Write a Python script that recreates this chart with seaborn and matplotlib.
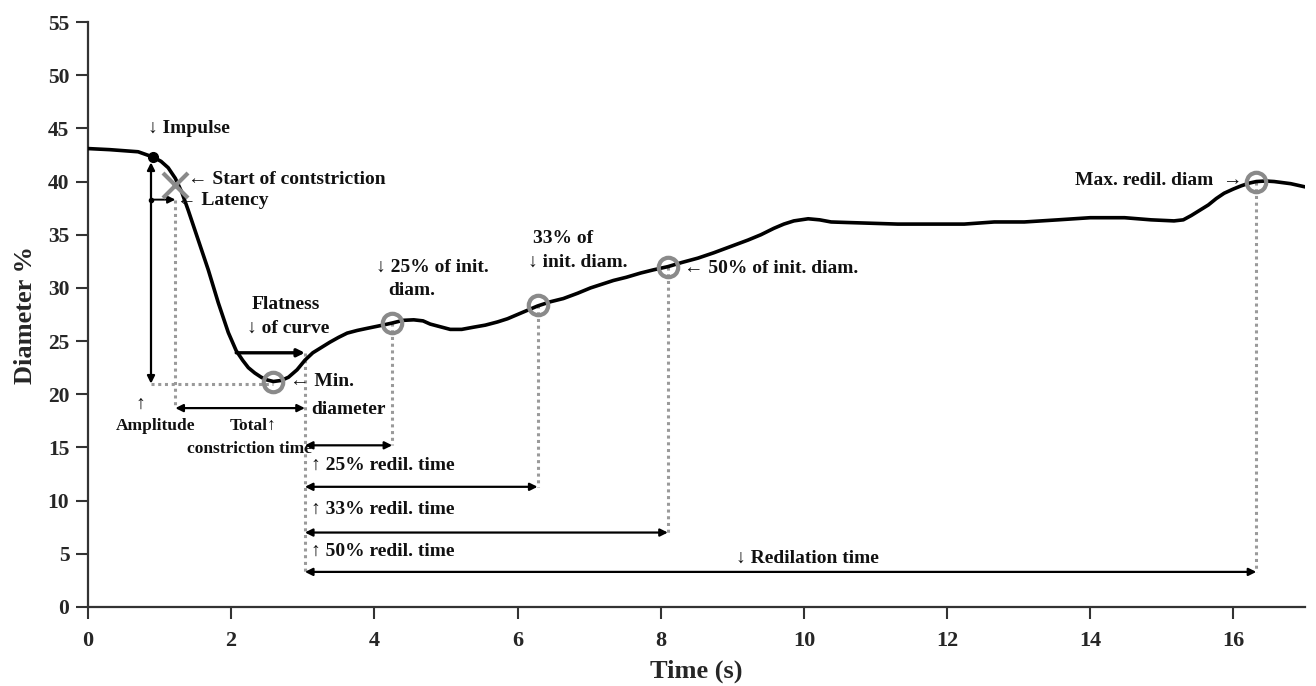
import matplotlib
matplotlib.use("Agg")
import matplotlib.pyplot as plt
import seaborn as sns
import pandas as pd

# ---- data ----
time_s = [0.0, 0.3, 0.7, 0.91, 1.02, 1.12, 1.22, 1.31, 1.40, 1.54, 1.68, 1.82, 1.96, 2.07,
          2.16, 2.24, 2.33, 2.42, 2.50, 2.59, 2.70, 2.80, 2.92, 3.03, 3.14, 3.26, 3.38,
          3.50, 3.62, 3.76, 3.90, 4.08, 4.25, 4.40, 4.55, 4.68, 4.78, 4.92, 5.06, 5.22,
          5.38, 5.55, 5.72, 5.86, 6.00, 6.14, 6.28, 6.46, 6.64, 6.84, 7.02, 7.18, 7.34,
          7.52, 7.72, 7.90, 8.10, 8.30, 8.52, 8.74, 8.98, 9.22, 9.40, 9.58, 9.72, 9.86,
          10.06, 10.22, 10.38, 10.60, 10.84, 11.31, 11.78, 12.24, 12.66, 13.08, 13.55,
          14.00, 14.48, 14.85, 15.17, 15.30, 15.41, 15.53, 15.65, 15.76, 15.87, 16.00,
          16.11, 16.22, 16.32, 16.45, 16.57, 16.80, 17.0]
diameter = [43.1, 43.0, 42.8, 42.3, 41.9, 41.3, 40.3, 39.0, 37.3, 34.5, 31.7, 28.6, 25.8, 24.1,
            23.2, 22.5, 22.0, 21.6, 21.35, 21.2, 21.3, 21.6, 22.3, 23.2, 23.9, 24.4, 24.9,
            25.35, 25.75, 26.0, 26.2, 26.45, 26.7, 26.95, 27.0, 26.9, 26.6, 26.35, 26.1, 26.1,
            26.3, 26.5, 26.8, 27.1, 27.5, 27.9, 28.3, 28.7, 29.0, 29.5, 30.0, 30.35, 30.7,
            31.0, 31.4, 31.7, 32.0, 32.4, 32.8, 33.3, 33.9, 34.5, 35.0, 35.6, 36.0, 36.3,
            36.5, 36.4, 36.2, 36.15, 36.1, 36.0, 36.0, 36.0, 36.2, 36.2, 36.4,
            36.6, 36.6, 36.4, 36.3, 36.4, 36.8, 37.3, 37.8, 38.4, 38.9, 39.3,
            39.6, 39.85, 40.0, 40.05, 40.0, 39.8, 39.5]

# events: impulse, start of constriction, min, 25%, 33%, 50%, max
impulse = (0.91, 42.3)
start_constr = (1.22, 39.7)
circle_t = [2.59, 4.25, 6.28, 8.10, 16.32]
circle_d = [21.2, 26.7, 28.4, 32.0, 40.0]
flat_end_t = 3.03
amp_t = 0.88
arrow_levels = {"latency": 38.3, "total": 18.7, "flat": 23.9,
                "r25": 15.2, "r33": 11.3, "r50": 7.0, "redil": 3.3}

x_ticks = [0, 2, 4, 6, 8, 10, 12, 14, 16]
y_ticks = [0, 5, 10, 15, 20, 25, 30, 35, 40, 45, 50, 55]

sns.set_style("ticks")
serif = ["Liberation Serif", "DejaVu Serif"]
plt.rcParams["font.family"] = serif
plt.rcParams["font.weight"] = "bold"

fig = plt.figure(figsize=(13.16, 6.86), dpi=100)
ax = fig.add_axes([88 / 1316, 1 - 607 / 686, (1305 - 88) / 1316, (607 - 22) / 686])

df = pd.DataFrame({"t": time_s, "d": diameter})
sns.lineplot(data=df, x="t", y="d", ax=ax, color="black", lw=2.6, sort=False, zorder=3)

grey = "#8a8a8a"
dot_kw = dict(color="#9a9a9a", ls=(0, (1, 1.2)), lw=2.2, zorder=1)
arr_kw = dict(arrowstyle="<|-|>", color="black", lw=1.6, mutation_scale=11, shrinkA=0, shrinkB=0)

def darrow(x0, y0, x1, y1, style="<|-|>", lw=1.6):
    kw = dict(arr_kw)
    kw["arrowstyle"] = style
    kw["lw"] = lw
    ax.annotate("", xy=(x1, y1), xytext=(x0, y0), arrowprops=kw, zorder=4)

L = arrow_levels
# amplitude
darrow(amp_t, 41.8, amp_t, 21.0)
ax.plot([amp_t, circle_t[0]], [21.0, 21.0], **dot_kw)
# latency
darrow(amp_t, L["latency"], start_constr[0], L["latency"], style="-|>", lw=1.4)
ax.plot([amp_t], [L["latency"]], "o", color="black", ms=3, zorder=4)
ax.plot([start_constr[0], start_constr[0]], [L["latency"], L["total"]], **dot_kw)
# total constriction
darrow(start_constr[0], L["total"], flat_end_t, L["total"])
# flatness
darrow(2.07, L["flat"], flat_end_t, L["flat"], style="-|>", lw=2.4)
ax.plot([flat_end_t, flat_end_t], [L["flat"], L["redil"]], **dot_kw)
# redilation dotted lines and arrows
for ct, cd, key in zip(circle_t[1:], circle_d[1:], ["r25", "r33", "r50", "redil"]):
    ax.plot([ct, ct], [cd, L[key]], **dot_kw)
    darrow(flat_end_t, L[key], ct, L[key])

# markers
ax.plot([impulse[0]], [impulse[1]], "o", color="black", ms=7, zorder=5)
ax.plot([start_constr[0]], [start_constr[1]], "x", color=grey, ms=18, mew=3, zorder=5)
ax.plot(circle_t, circle_d, "o", mfc="none", mec=grey, ms=14, mew=3, zorder=5)

fs = 14
tk = dict(fontsize=fs, fontweight="bold", family=serif, color="#111111")
tks = dict(tk)
tks["fontsize"] = 12.5
ax.text(0.84, 45.0, "↓ Impulse", ha="left", va="center", **tk)
ax.text(1.40, 40.2, "← Start of contstriction", ha="left", va="center", **tk)
ax.text(1.25, 38.2, "← Latency", ha="left", va="center", **tk)
ax.text(2.77, 28.4, "Flatness", ha="center", va="center", **tk)
ax.text(2.22, 26.2, "↓ of curve", ha="left", va="center", **tk)
ax.text(2.82, 21.2, "← Min.", ha="left", va="center", **tk)
ax.text(3.12, 18.6, "diameter", ha="left", va="center", **tk)
ax.text(0.73, 19.1, "↑", ha="center", va="center", **tk)
ax.text(0.94, 17.0, "Amplitude", ha="center", va="center", **tks)
ax.text(2.30, 17.0, "Total↑", ha="center", va="center", **tks)
ax.text(2.25, 14.9, "constriction time", ha="center", va="center", **tks)
ax.text(4.02, 31.9, "↓ 25% of init.", ha="left", va="center", **tk)
ax.text(4.19, 29.8, "diam.", ha="left", va="center", **tk)
ax.text(6.22, 34.6, "33% of", ha="left", va="center", **tk)
ax.text(6.14, 32.4, "↓ init. diam.", ha="left", va="center", **tk)
ax.text(8.33, 31.8, "← 50% of init. diam.", ha="left", va="center", **tk)
ax.text(16.12, 40.1, "Max. redil. diam  →", ha="right", va="center", **tk)
ax.text(3.12, 13.3, "↑ 25% redil. time", ha="left", va="center", **tk)
ax.text(3.12, 9.2, "↑ 33% redil. time", ha="left", va="center", **tk)
ax.text(3.12, 5.2, "↑ 50% redil. time", ha="left", va="center", **tk)
ax.text(9.05, 4.6, "↓ Redilation time", ha="left", va="center", **tk)

ax.set_xlim(0, 17)
ax.set_ylim(0, 55)
ax.set_xticks(x_ticks)
ax.set_yticks(y_ticks)
ax.set_xticklabels([str(v) for v in x_ticks], fontsize=16, fontweight="bold", family=serif)
ax.set_yticklabels([str(v) for v in y_ticks], fontsize=15.5, fontweight="bold", family=serif)
ax.tick_params(direction="out", length=8.5, width=1.5, color="#333333")
ax.tick_params(axis="x", pad=9)
ax.tick_params(axis="y", pad=5)
ax.set_xlabel("Time (s)", fontsize=19, fontweight="bold", family=serif, labelpad=6)
ax.set_ylabel("Diameter %", fontsize=19, fontweight="bold", family=serif, labelpad=8)
sns.despine(ax=ax)
for s in ["left", "bottom"]:
    ax.spines[s].set_linewidth(1.6)
    ax.spines[s].set_color("#333333")

fig.savefig("out.png", dpi=100)
